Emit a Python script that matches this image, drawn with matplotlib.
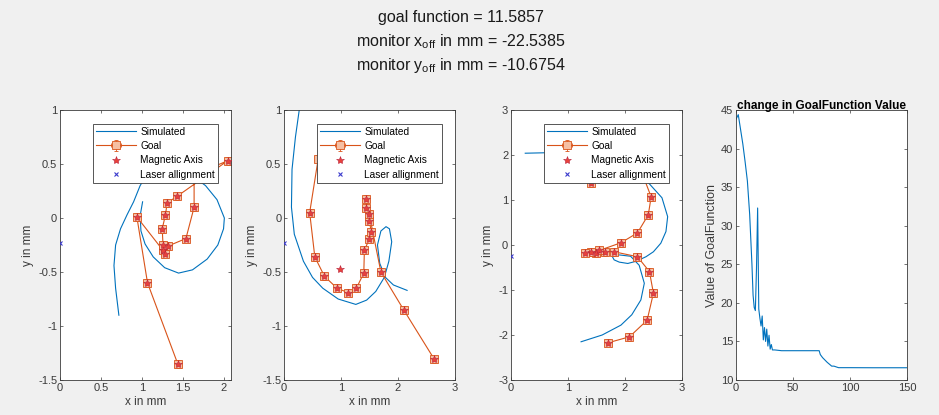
import numpy as np
import matplotlib
matplotlib.use('Agg')
import matplotlib.pyplot as plt
from matplotlib.ticker import FuncFormatter

plt.rcParams['font.family'] = ['Liberation Sans', 'DejaVu Sans']
plt.rcParams['mathtext.fontset'] = 'custom'
plt.rcParams['mathtext.rm'] = 'Liberation Sans'
plt.rcParams['axes.unicode_minus'] = False

# ---- data ----
# subplot 1
sim1_x = [0.72, 0.68, 0.66, 0.68, 0.74, 0.82, 0.90, 0.98, 1.06, 1.20, 1.40, 1.60, 1.78, 1.92, 2.01,
          2.00, 1.93, 1.80, 1.62, 1.45, 1.28, 1.14, 1.04, 0.99, 0.98, 1.01]
sim1_y = [-0.90, -0.65, -0.44, -0.25, -0.10, 0.03, 0.15, 0.30, 0.40, 0.45, 0.45, 0.40, 0.30, 0.17, 0.00,
          -0.10, -0.25, -0.38, -0.48, -0.51, -0.46, -0.36, -0.24, -0.12, 0.02, 0.15]
goal1_x = [1.44, 1.07, 0.94, 1.26, 1.28, 1.32, 1.54, 1.64, 1.64, 2.05, 1.43, 1.31, 1.29, 1.25, 1.26]
goal1_y = [-1.35, -0.60, 0.01, -0.30, -0.33, -0.26, -0.19, 0.10, 0.40, 0.53, 0.20, 0.14, 0.03, -0.10, -0.25]
mag1_x = [1.44, 1.07, 0.94, 1.26, 1.28, 1.32, 1.54, 1.64, 2.05, 1.43, 1.31, 1.29, 1.25, 1.26]
mag1_y = [-1.35, -0.60, 0.01, -0.30, -0.33, -0.26, -0.19, 0.10, 0.53, 0.20, 0.14, 0.03, -0.10, -0.25]
laser1 = (0.0, -0.23)

# subplot 2
sim2_x = [0.28, 0.20, 0.14, 0.13, 0.18, 0.34, 0.50, 0.68, 0.95, 1.26, 1.45, 1.61, 1.76, 1.84, 1.89,
          1.85, 1.79, 1.70, 1.64, 1.68, 1.78, 1.92, 2.16]
sim2_y = [1.05, 0.75, 0.45, 0.10, -0.15, -0.40, -0.55, -0.65, -0.75, -0.80, -0.76, -0.68, -0.55, -0.40, -0.22,
          -0.10, -0.08, -0.12, -0.25, -0.42, -0.55, -0.62, -0.67]
goal2_x = [0.60, 0.45, 0.54, 0.71, 0.93, 1.12, 1.27, 1.40, 1.41, 1.50, 1.53, 1.50, 1.49, 1.44, 1.44,
           1.70, 2.10, 2.64]
goal2_y = [0.55, 0.05, -0.36, -0.54, -0.65, -0.69, -0.65, -0.51, -0.30, -0.19, -0.13, -0.03, 0.04, 0.09, 0.18,
           -0.50, -0.85, -1.31]
mag2_x = [0.45, 0.54, 0.71, 0.93, 1.12, 1.27, 1.40, 1.41, 1.50, 1.53, 1.50, 1.49, 1.44, 1.44,
          1.70, 2.10, 2.64, 0.99]
mag2_y = [0.05, -0.36, -0.54, -0.65, -0.69, -0.65, -0.51, -0.30, -0.19, -0.13, -0.03, 0.04, 0.09, 0.18,
          -0.50, -0.85, -1.31, -0.47]
laser2 = (0.0, -0.23)

# subplot 3
sim3_x = [0.25, 0.60, 1.20, 1.90, 2.40, 2.65, 2.75, 2.72, 2.63, 2.50, 2.37, 2.20, 2.05, 1.90, 1.81,
          1.78, 1.90, 2.10, 2.25, 2.34, 2.28, 2.12, 1.93, 1.60, 1.23]
sim3_y = [2.04, 2.05, 1.95, 1.70, 1.40, 1.05, 0.63, 0.30, 0.04, -0.15, -0.26, -0.36, -0.41, -0.38, -0.33,
          -0.26, -0.22, -0.25, -0.45, -0.85, -1.22, -1.55, -1.78, -2.00, -2.15]
goal3_x = [1.71, 2.08, 2.39, 2.50, 2.43, 2.22, 1.81, 1.65, 1.50, 1.40, 1.30, 1.55, 1.93, 2.22, 2.41,
           2.46, 2.30, 1.40]
goal3_y = [-2.17, -2.04, -1.67, -1.07, -0.59, -0.26, -0.15, -0.15, -0.18, -0.15, -0.17, -0.12, 0.05, 0.27, 0.67,
           1.07, 1.60, 1.37]
mag3_x = [1.71, 2.08, 2.39, 2.50, 2.43, 2.22, 1.81, 1.65, 1.50, 1.40, 1.30, 1.55, 1.93, 2.22, 2.41, 2.46, 1.40]
mag3_y = [-2.17, -2.04, -1.67, -1.07, -0.59, -0.26, -0.15, -0.15, -0.18, -0.15, -0.17, -0.12, 0.05, 0.27, 0.67,
          1.07, 1.37]
laser3 = (0.0, -0.25)

# subplot 4: goal function per iteration
iters = [0, 2, 4, 6, 8, 10, 12, 14, 15, 16, 17, 18, 19, 20, 21, 22, 23, 24, 25, 26, 27, 28, 29, 30,
         31, 32, 34, 40, 50, 60, 70, 73, 74, 76, 78, 80, 84, 86, 90, 100, 120, 150]
goal_vals = [43.8, 44.4, 42.5, 40.6, 38.3, 35.8, 31.5, 25.0, 21.0, 19.4, 19.0, 24.5, 32.3, 19.2, 18.0, 17.0,
             18.3, 15.2, 16.8, 15.0, 16.6, 14.4, 15.8, 14.0, 14.6, 13.9, 13.9, 13.8, 13.8, 13.8, 13.8, 13.8,
             13.3, 12.9, 12.6, 12.3, 11.8, 11.8, 11.6, 11.6, 11.59, 11.59]

# ---- figure ----
fig = plt.figure(figsize=(9.39, 4.15), dpi=100)
fig.patch.set_facecolor('#f0f0f0')

blue = '#0072BD'
orange = '#D95319'
ax_col = '#3a3a3a'
fmt = FuncFormatter(lambda v, p: '%g' % v)

lefts = [0.0639, 0.3025, 0.5442, 0.7838]
w, b, h = 0.182, 0.0843, 0.6506
axes = [fig.add_axes([l, b, w, h]) for l in lefts]

panels = [
    (sim1_x, sim1_y, goal1_x, goal1_y, mag1_x, mag1_y, laser1, (0, 2.09), (-1.5, 1), [0, 0.5, 1, 1.5, 2], np.arange(-1.5, 1.01, 0.5)),
    (sim2_x, sim2_y, goal2_x, goal2_y, mag2_x, mag2_y, laser2, (0, 2.98), (-1.5, 1), [0, 1, 2, 3], np.arange(-1.5, 1.01, 0.5)),
    (sim3_x, sim3_y, goal3_x, goal3_y, mag3_x, mag3_y, laser3, (0, 2.98), (-3, 3), [0, 1, 2, 3], np.arange(-3, 3.1, 1)),
]

for ax, (sx, sy, gx, gy, mx, my, las, xl, yl, xt, yt) in zip(axes[:3], panels):
    h1, = ax.plot(sx, sy, color=blue, lw=0.8, label='Simulated')
    h2 = ax.errorbar(gx, gy, xerr=0.035, yerr=0.035 * (yl[1] - yl[0]) / 2.5, color=orange, lw=0.8,
                     marker='s', ms=5.5, mfc='#f5bfa3', mec=orange, mew=0.6, elinewidth=0.6,
                     capsize=1.5, label='Goal')
    h3, = ax.plot(mx, my, ls='none', marker='*', ms=6, color='#e8413a', mec='#b8203a', mew=0.4,
                  label='Magnetic Axis', zorder=4)
    h4, = ax.plot([las[0]], [las[1]], ls='none', marker='x', ms=3.5, mew=0.8, color='#3a3acc',
                  label='Laser allignment', zorder=4)
    ax.set_xlim(*xl)
    ax.set_ylim(*yl)
    ax.set_xticks(xt)
    ax.set_yticks(yt)
    ax.set_xlabel('x in mm', fontsize=8.5, color=ax_col, labelpad=2)
    ax.set_ylabel('y in mm', fontsize=8.5, color=ax_col, labelpad=3)
    leg = ax.legend([h1, h2, h3, h4], ['Simulated', 'Goal', 'Magnetic Axis', 'Laser allignment'],
                    loc='upper right', bbox_to_anchor=(0.955, 0.968), fontsize=7.3, handlelength=4.0,
                    labelspacing=0.42, borderpad=0.3, handletextpad=0.4, fancybox=False,
                    framealpha=1, edgecolor=ax_col)
    leg.get_frame().set_linewidth(0.6)
    leg.set_zorder(10)

ax4 = axes[3]
ax4.plot(iters, goal_vals, color=blue, lw=0.8)
ax4.set_xlim(0, 150)
ax4.set_ylim(10, 45)
ax4.set_xticks([0, 50, 100, 150])
ax4.set_yticks(np.arange(10, 46, 5))
ax4.set_ylabel('Value of GoalFunction', fontsize=9, color=ax_col, labelpad=2)
ax4.set_title('change in GoalFunction Value', fontsize=8.5, fontweight='bold', pad=1)

for ax in axes:
    ax.xaxis.set_major_formatter(fmt)
    ax.yaxis.set_major_formatter(fmt)
    ax.tick_params(direction='in', top=True, right=True, length=2.5, width=0.5,
                   labelsize=8, colors=ax_col, pad=2)
    for s in ax.spines.values():
        s.set_linewidth(0.6)
        s.set_color(ax_col)

fig.text(0.491, 0.957, 'goal function = 11.5857', ha='center', va='center', fontsize=11.5, color='#1a1a1a')
fig.text(0.491, 0.900, r'monitor x$_\mathrm{off}$ in mm = -22.5385', ha='center', va='center',
         fontsize=11.5, color='#1a1a1a')
fig.text(0.491, 0.843, r'monitor y$_\mathrm{off}$ in mm = -10.6754', ha='center', va='center',
         fontsize=11.5, color='#1a1a1a')

fig.savefig('out.png', dpi=100, facecolor=fig.get_facecolor())
